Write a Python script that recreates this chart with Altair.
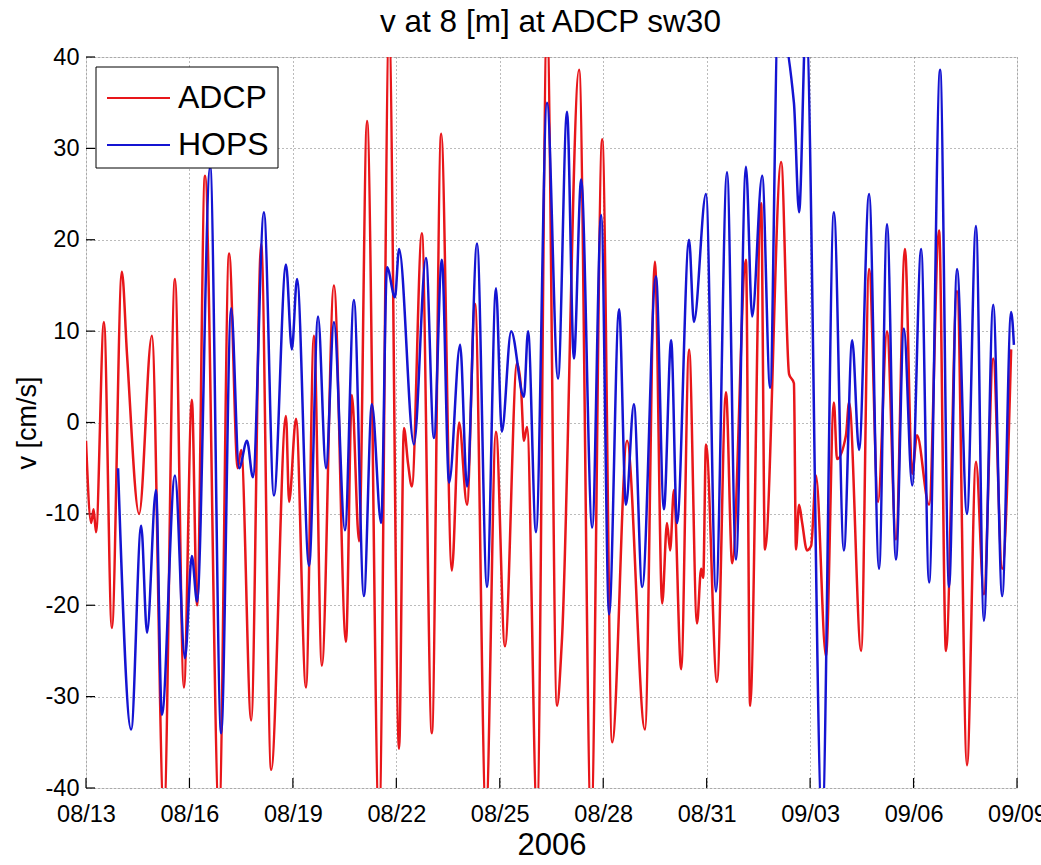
import altair as alt
import pandas as pd

# ---------------- data ----------------
ADCP_DAYS = [0.00, 0.15, 0.22, 0.29, 0.52, 0.75, 1.04, 1.19, 1.54, 1.91, 2.26, 2.58, 2.84, 3.07, 3.22,
             3.45, 3.86, 4.15, 4.40, 4.50, 4.79, 5.08, 5.37, 5.80, 5.89, 6.09, 6.38, 6.61, 6.84, 7.19,
             7.54, 7.71, 7.92, 8.15, 8.50, 8.79, 9.08, 9.22, 9.34, 9.45, 9.74, 10.03, 10.30, 10.61, 10.82,
             11.05, 11.28, 11.60, 11.89, 12.15, 12.50, 12.62, 12.70, 12.79, 13.08, 13.37, 13.66, 13.80,
             14.30, 14.65, 14.97, 15.26, 15.69, 16.21, 16.50, 16.71, 16.85, 16.94, 17.05, 17.26, 17.49,
             17.72, 17.84, 17.90, 17.98, 18.30, 18.56, 18.74, 19.14, 19.26, 19.58, 19.69, 20.16, 20.39,
             20.53, 20.59, 20.68, 20.77, 20.91, 21.03, 21.17, 21.46, 21.69, 21.78, 22.04, 22.13, 22.48,
             22.71, 22.97, 23.23, 23.49, 23.75, 23.96, 24.10, 24.45, 24.74, 24.94, 25.26, 25.55, 25.81,
             26.04, 26.31, 26.57, 26.83]
ADCP_V = [-2, -11, -9.5, -12, 11, -22.5, 16.5, 7.4, -10, 9.5, -43, 15.7, -29, 2.5, -20,
          27, -43, 18.5, -5, -3, -32.6, 19.5, -38, 0.7, -8.7, 0.4, -29, 9.5, -26.6, 15,
          -24, 3, -13, 33, -44, 43, -35.7, -0.6, -4.5, -7, 20.7, -34, 31.6, -16.2, 0,
          -9, 13, -43, -1, -24.5, 6.5, 3.5, -2, -0.5, -43, 44, -31, -24,
          38.6, -44, 31, -35, -2, -33.6, 17.6, -19.8, -11, -14, -7.4, -27, 8,
          -22, -16, -17, -2.4, -28.4, 3.3, -15.4, 17.8, -31, 24, -13.9, 28.5, 5.3,
          4.3, -13.9, -9, -11, -14, -13.5, -5.8, -25.6, 2.2, -4, -1.4, 2.2, -25,
          16.8, -8.7, 10, -12.8, 19, -5.6, -1.4, -9, 21, -25, 14.4, -37.5, -4.3,
          -18.8, 7, -16, 8]

HOPS_DAYS = [0.93, 1.31, 1.60, 1.77, 2.03, 2.20, 2.58, 2.87, 3.07, 3.22, 3.60, 3.92, 4.21, 4.44, 4.67,
             4.84, 5.16, 5.45, 5.80, 5.97, 6.12, 6.47, 6.73, 6.96, 7.19, 7.51, 7.77, 8.06, 8.29, 8.56,
             8.73, 8.96, 9.08, 9.51, 9.86, 10.09, 10.32, 10.53, 10.85, 11.05, 11.34, 11.63, 11.89, 12.06,
             12.33, 12.70, 12.82, 13.05, 13.37, 13.69, 13.95, 14.15, 14.36, 14.68, 14.94, 15.17, 15.46,
             15.66, 15.89, 16.13, 16.53, 16.76, 16.97, 17.14, 17.49, 17.63, 17.98, 18.27, 18.59, 18.85,
             19.14, 19.32, 19.61, 19.84, 20.07, 20.53, 20.68, 20.88, 21.35, 21.69, 21.98, 22.22, 22.42,
             22.71, 23.00, 23.23, 23.49, 23.72, 23.96, 24.22, 24.45, 24.77, 25.03, 25.26, 25.55, 25.81,
             26.04, 26.31, 26.57, 26.83, 26.91]
HOPS_V = [-5, -33.6, -11.3, -23, -7.4, -32, -5.8, -25.8, -14.6, -19.6, 28, -34, 12.5, -5, -2,
          -6, 23, -8, 17.3, 8, 15.7, -15.7, 11.6, -5, 11, -11.8, 13.4, -19, 2, -11,
          17, 13.7, 19, -2.4, 18, -1.7, 17.8, -6.6, 8.5, -7, 19.6, -18, 14.7, -1,
          10, 2.8, 10, -12, 35, 4.8, 34, 7, 26.6, -11.5, 22.7, -21, 12.4,
          -9, 2, -18, 16, -9.5, 9, -11, 20, 11, 25, -18.5, 27.4, -15,
          28, 11.6, 27, 3.8, 44, 35, 23, 44, -44, 23, -14, 9, -3,
          25, -16, 21.7, -15, 10.3, -6.9, 19, -17.5, 38.6, -18, 16.8, -10, 21.5,
          -21.7, 12.9, -19, 12.1, 8.5]

SERIES = ["ADCP", "HOPS"]
COLORS = ["#e8161a", "#1414d2"]
Y_TICKS = [-40, -30, -20, -10, 0, 10, 20, 30, 40]
X_TICK_DAYS = [0, 3, 6, 9, 12, 15, 18, 21, 24, 27]

TITLE = "v at 8 [m] at ADCP sw30"
Y_TITLE = "v [cm/s]"
X_TITLE = "2006"

START = pd.Timestamp("2006-08-13")


def stamp(d):
    return (START + pd.Timedelta(days=d)).strftime("%Y-%m-%dT%H:%M:%SZ")


def series_frame(days, vals, name):
    return pd.DataFrame({"t": [stamp(d) for d in days], "v": vals, "series": name})


df = pd.concat([series_frame(ADCP_DAYS, ADCP_V, SERIES[0]),
                series_frame(HOPS_DAYS, HOPS_V, SERIES[1])], ignore_index=True)

tick_dates = [(START + pd.Timedelta(days=d)) for d in X_TICK_DAYS]
x_values = [alt.DateTime(year=d.year, month=d.month, date=d.day, utc=True) for d in tick_dates]

FONT = "Liberation Sans"
W, H = 931, 731

x_scale = alt.Scale(type="utc", domain=[x_values[0], x_values[-1]], nice=False)
y_scale = alt.Scale(domain=[-40, 40], nice=False, zero=False)

x_axis = alt.Axis(values=x_values, format="%m/%d", grid=True, gridColor="#777", gridDash=[1, 3],
                  gridWidth=1, domain=False, ticks=False, labelFontSize=23.5, labelFont=FONT,
                  labelColor="black", labelPadding=14, labelOverlap=False, labelFlush=False,
                  title=X_TITLE, titleFontSize=31, titleFont=FONT, titleFontWeight="normal",
                  titleColor="black", titlePadding=5)
y_axis = alt.Axis(values=Y_TICKS, grid=True, gridColor="#777", gridDash=[1, 3], gridWidth=1,
                  domain=False, ticks=False, labelFontSize=23.5, labelFont=FONT, labelColor="black",
                  labelPadding=7, labelExpr="'' + datum.value",
                  title=Y_TITLE, titleFontSize=27, titleFont=FONT,
                  titleFontWeight="normal", titleColor="black", titleX=-59, titleBaseline="middle")

base = alt.Chart(df)

lines = base.mark_line(strokeWidth=2.5, clip=True, interpolate="monotone").encode(
    x=alt.X("t:T", scale=x_scale, axis=x_axis),
    y=alt.Y("v:Q", scale=y_scale, axis=y_axis),
    color=alt.Color("series:N", scale=alt.Scale(domain=SERIES, range=COLORS), legend=None),
    order=alt.Order("t:T"),
    detail="series:N",
)

# inward ticks (MATLAB style)
yt = pd.DataFrame({"v": Y_TICKS})
xt = pd.DataFrame({"t": [stamp(d) for d in X_TICK_DAYS]})
ytick_l = alt.Chart(yt).mark_rule(color="black", strokeWidth=1.2).encode(
    y=alt.Y("v:Q", scale=y_scale), x=alt.value(0), x2=alt.value(9))
xtick_b = alt.Chart(xt).mark_rule(color="black", strokeWidth=1.2).encode(
    x=alt.X("t:T", scale=x_scale), y=alt.value(H - 10), y2=alt.value(H))

# legend box (MATLAB style)
one = pd.DataFrame({"k": [0]})
leg_box = alt.Chart(one).mark_rect(fill="white", stroke="black", strokeWidth=1).encode(
    x=alt.value(10), x2=alt.value(192), y=alt.value(10), y2=alt.value(111))
leg_items = []
for i, (name, col) in enumerate(zip(SERIES, COLORS)):
    yy = 41 + 47 * i
    leg_items.append(alt.Chart(one).mark_rule(color=col, strokeWidth=2).encode(
        x=alt.value(21), x2=alt.value(84), y=alt.value(yy)))
    leg_items.append(alt.Chart(one).mark_text(text=name, align="left", baseline="middle",
                                              fontSize=32, font=FONT, color="black").encode(
        x=alt.value(92), y=alt.value(yy)))

# chart title (drawn as text so it is not pushed up by the clipped line bounds)
title_mark = alt.Chart(one).mark_text(text=TITLE, align="center", baseline="alphabetic",
                                      fontSize=31.5, font=FONT, color="black").encode(
    x=alt.value(W / 2 - 1), y=alt.value(-25))

chart = alt.layer(xtick_b, ytick_l, lines, leg_box, *leg_items, title_mark).properties(
    width=W, height=H,
    autosize=alt.AutoSizeParams(type="none"),
    padding={"left": 86, "top": 57, "right": 24, "bottom": 77},
).configure_view(stroke="black", strokeWidth=1.3).configure(background="white")

chart.save("out.html", embed_options={"renderer": "svg", "actions": False})
